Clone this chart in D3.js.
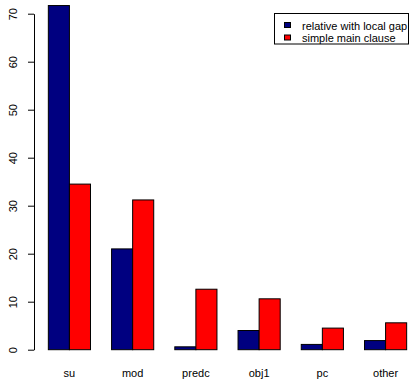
<!DOCTYPE html>
<html>
<head>
<meta charset="utf-8">
<script src="https://cdn.jsdelivr.net/npm/d3@7"></script>
<style>
  html, body { margin: 0; padding: 0; background: #fff; }
  svg { display: block; font-family: "Liberation Sans", Arial, Helvetica, sans-serif; }
</style>
</head>
<body>
<svg id="chart" width="411" height="379"></svg>
<script>
// Grammatical function shares (%) for two clause types
const categories = ["su", "mod", "predc", "obj1", "pc", "other"];
const seriesNames = ["relative with local gap", "simple main clause"];
const relativeLocalGap = [71.7, 21.0, 0.6, 4.0, 1.1, 1.9];
const simpleMainClause = [34.5, 31.2, 12.6, 10.6, 4.5, 5.6];
const yTicks = [0, 10, 20, 30, 40, 50, 60, 70];
const colors = ["#000080", "#ff0000"];

const series = [relativeLocalGap, simpleMainClause];
const svg = d3.select("#chart");

// Bar units: each bar is 1 unit wide, groups separated by a 1-unit gap
const x = d3.scaleLinear().domain([0.32, 18.68]).range([34, 421]);
const y = d3.scaleLinear().domain([0, 70]).range([349.7, 13.7]);

const groups = svg.append("g");
categories.forEach((cat, i) => {
  series.forEach((vals, s) => {
    const u = 1 + 3 * i + s;
    groups.append("rect")
      .attr("x", x(u))
      .attr("y", y(vals[i]))
      .attr("width", x(u + 1) - x(u))
      .attr("height", y(0) - y(vals[i]))
      .attr("fill", colors[s])
      .attr("stroke", "#000")
      .attr("stroke-width", 1);
  });
  svg.append("text")
    .attr("x", x(2 + 3 * i))
    .attr("y", 377)
    .attr("text-anchor", "middle")
    .attr("font-size", 11)
    .attr("fill", "#000")
    .text(cat);
});

// Y axis with rotated tick labels
const yAxis = svg.append("g")
  .attr("transform", "translate(34,0)")
  .call(d3.axisLeft(y).tickValues(yTicks).tickSize(6).tickSizeOuter(0).tickFormat(d3.format("d")));
yAxis.select(".domain").attr("stroke", "#000");
yAxis.selectAll(".tick line").attr("stroke", "#000");
yAxis.selectAll(".tick text")
  .attr("transform", "rotate(-90)")
  .attr("text-anchor", "middle")
  .attr("x", 0)
  .attr("y", -17)
  .attr("dy", 0)
  .attr("font-size", 11)
  .attr("font-family", "Liberation Sans, Arial, sans-serif")
  .attr("fill", "#000");

// Legend
const legend = svg.append("g");
legend.append("rect")
  .attr("x", 274.5).attr("y", 13.5)
  .attr("width", 134).attr("height", 30.5)
  .attr("fill", "#fff").attr("stroke", "#000");
seriesNames.forEach((name, s) => {
  legend.append("rect")
    .attr("x", 284.5).attr("y", 22.5 + 12.5 * s)
    .attr("width", 6).attr("height", 5)
    .attr("fill", colors[s]).attr("stroke", "#000").attr("stroke-width", 1);
  legend.append("text")
    .attr("x", 302).attr("y", 29.5 + 12.5 * s)
    .attr("font-size", 11)
    .attr("fill", "#000")
    .text(name);
});
</script>
</body>
</html>
